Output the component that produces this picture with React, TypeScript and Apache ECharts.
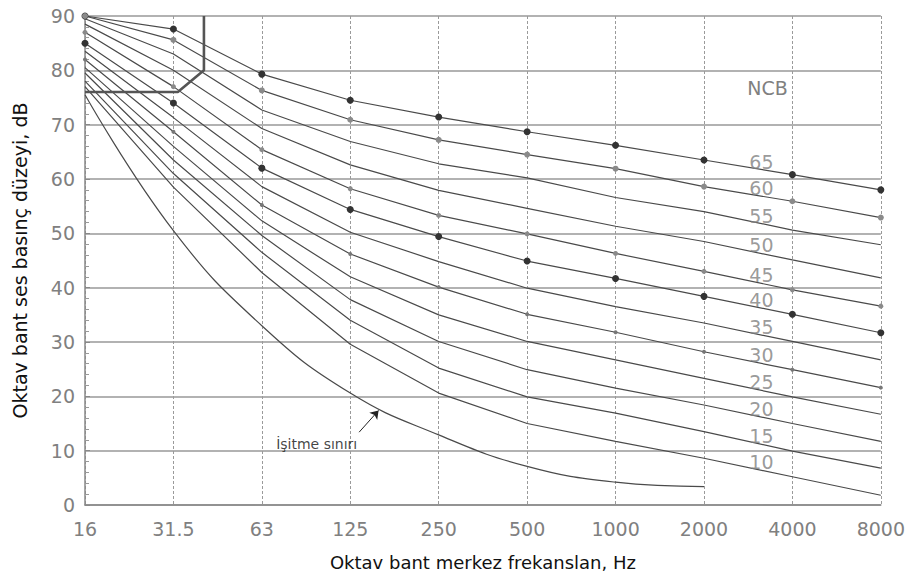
import React, { useEffect, useRef } from "react";
import * as echarts from "echarts";

// Octave-band centre frequencies (x categories)
const categories = ["16", "31.5", "63", "125", "250", "500", "1000", "2000", "4000", "8000"];
const yTicks = [0, 10, 20, 30, 40, 50, 60, 70, 80, 90];

// NCB curves (dB), one value per octave band
const ncb65 = [90, 87.6, 79.3, 74.5, 71.4, 68.7, 66.2, 63.5, 60.8, 58.0];
const ncb60 = [90, 85.6, 76.3, 70.9, 67.2, 64.5, 61.9, 58.6, 55.9, 52.9];
const ncb55 = [89.5, 83.0, 72.7, 66.9, 62.8, 60.2, 56.6, 54.0, 50.6, 47.9];
const ncb50 = [88.5, 80.0, 69.3, 62.6, 57.9, 54.6, 51.3, 48.5, 45.1, 41.8];
const ncb45 = [87.0, 77.0, 65.4, 58.2, 53.3, 49.9, 46.3, 43.0, 39.6, 36.6];
const ncb40 = [85.0, 74.0, 62.0, 54.4, 49.4, 44.9, 41.7, 38.4, 35.1, 31.7];
const ncb35 = [83.5, 71.3, 58.6, 50.2, 44.8, 39.9, 36.5, 33.5, 30.1, 26.7];
const ncb30 = [82.0, 68.7, 55.2, 46.2, 40.1, 35.1, 31.8, 28.2, 24.9, 21.6];
const ncb25 = [80.5, 66.0, 52.3, 42.0, 35.0, 30.1, 26.7, 23.3, 19.9, 16.7];
const ncb20 = [79.5, 63.5, 49.6, 37.8, 30.1, 24.9, 21.5, 18.4, 15.0, 11.7];
const ncb15 = [78.0, 61.0, 46.5, 34.0, 25.2, 19.9, 16.9, 13.5, 9.9, 6.8];
const ncb10 = [77.0, 58.5, 42.8, 29.6, 20.6, 15.0, 11.7, 8.6, 5.2, 1.8];

const ncbLevels = [65, 60, 55, 50, 45, 40, 35, 30, 25, 20, 15, 10];
const ncbCurves = [ncb65, ncb60, ncb55, ncb50, ncb45, ncb40, ncb35, ncb30, ncb25, ncb20, ncb15, ncb10];

// Hearing threshold (16 .. 2000 Hz)
const hearingThreshold = [75.5, 50.5, 33.0, 20.6, 12.9, 7.1, 4.2, 3.4];

// Boundary of the perceptible-vibration region ([band index, dB])
const vibrationBoundary = [
  [0, 76],
  [1.05, 76],
  [1.345, 80],
  [1.345, 90],
];

// Annotation anchors ([band index, dB])
const arrowFrom = [3.1, 13.4];
const arrowTo = [3.32, 17.4];
const thresholdTextAt = [2.62, 11.3];
const labelBand = 7.65; // curve labels placed between 2000 and 4000 Hz

const FONT = "DejaVu Sans";

const dotStyle: Record<number, { size: number; color: string }> = {
  65: { size: 7, color: "#333" },
  60: { size: 6, color: "#8a8a8a" },
  45: { size: 5, color: "#8a8a8a" },
  40: { size: 7, color: "#333" },
  30: { size: 4, color: "#777" },
};

function interp(arr: number[], x: number) {
  const i = Math.floor(x);
  const f = x - i;
  return arr[i] + (arr[i + 1] - arr[i]) * f;
}

export default function App() {
  const ref = useRef<HTMLDivElement>(null);

  useEffect(() => {
    document.body.style.margin = "0";
    const chart = echarts.init(ref.current!, null, { renderer: "svg" });

    const curveSeries = ncbLevels.map((lvl, k) => {
      const d = dotStyle[lvl];
      return {
        type: "line",
        name: "NCB " + lvl,
        data: ncbCurves[k].map((v, i) => [i, v]),
        showSymbol: !!d,
        symbol: "circle",
        symbolSize: d ? d.size : 0,
        itemStyle: { color: d ? d.color : "#4a4a4a" },
        lineStyle: { color: "#4a4a4a", width: 1.2 },
        silent: true,
        z: 3,
      };
    });

    const option: any = {
      animation: false,
      backgroundColor: "#fff",
      grid: { left: 85, right: 20, top: 16, bottom: 76, containLabel: false },
      xAxis: {
        type: "value",
        min: 0,
        max: categories.length - 1,
        interval: 1,
        name: "Oktav bant merkez frekanslan, Hz",
        nameLocation: "middle",
        nameGap: 48,
        nameTextStyle: { fontFamily: FONT, fontSize: 18, color: "#111" },
        axisLine: { show: true, lineStyle: { color: "#888", width: 1.5 } },
        axisTick: { show: false },
        axisLabel: {
          formatter: (v: number) => categories[Math.round(v)] ?? "",
          fontFamily: FONT,
          fontSize: 19,
          color: "#808080",
          margin: 14,
        },
        splitLine: { show: true, lineStyle: { color: "#9a9a9a", width: 1, type: [3, 2] } },
      },
      yAxis: {
        type: "value",
        min: yTicks[0],
        max: yTicks[yTicks.length - 1],
        interval: 10,
        name: "Oktav bant ses basınç düzeyi, dB",
        nameLocation: "middle",
        nameGap: 56,
        nameTextStyle: { fontFamily: FONT, fontSize: 19, color: "#111" },
        axisLine: { show: true, lineStyle: { color: "#888", width: 1.5 } },
        axisTick: { show: true, inside: true, length: 5, lineStyle: { color: "#888" } },
        minorTick: { show: true, splitNumber: 5, length: 4, lineStyle: { color: "#999" } },
        axisLabel: { fontFamily: FONT, fontSize: 19, color: "#808080", margin: 10 },
        splitLine: { show: true, lineStyle: { color: "#999", width: 1.6 } },
      },
      graphic: [
        {
          type: "text",
          x: 85 + (labelBand * (888 - 85)) / (categories.length - 1),
          y: 88,
          style: {
            text: "NCB",
            fill: "#808080",
            font: `19px "${FONT}"`,
            align: "center",
            verticalAlign: "middle",
          },
        },
      ],
      series: [
        ...curveSeries,
        {
          type: "line",
          name: "threshold",
          data: hearingThreshold.map((v, i) => [i, v]),
          smooth: 0.45,
          showSymbol: false,
          lineStyle: { color: "#4a4a4a", width: 1.2 },
          silent: true,
          z: 3,
          markLine: {
            silent: true,
            symbol: ["none", "arrow"],
            symbolSize: 8,
            label: { show: false },
            lineStyle: { color: "#222", width: 1, type: "solid" },
            data: [[{ coord: arrowFrom }, { coord: arrowTo }]],
          },
        },
        {
          type: "line",
          name: "vibration",
          data: vibrationBoundary,
          showSymbol: false,
          lineStyle: { color: "#555", width: 2.6 },
          silent: true,
          z: 4,
        },
        {
          type: "scatter",
          name: "labels",
          silent: true,
          symbolSize: 1,
          itemStyle: { color: "rgba(0,0,0,0)" },
          data: ncbLevels.map((lvl, k) => ({
            value: [labelBand, interp(ncbCurves[k], labelBand)],
            label: { formatter: String(lvl) },
          })),
          label: {
            show: true,
            position: "inside",
            offset: [0, -8],
            fontFamily: FONT,
            fontSize: 19,
            color: "#808080",
          },
          z: 5,
        },
        {
          type: "scatter",
          name: "thresholdText",
          silent: true,
          symbolSize: 1,
          itemStyle: { color: "rgba(0,0,0,0)" },
          data: [{ value: thresholdTextAt, label: { formatter: "İşitme sınırı" } }],
          label: { show: true, position: "inside", fontFamily: FONT, fontSize: 14, color: "#111" },
          z: 5,
        },
      ],
    };

    chart.setOption(option);
    return () => chart.dispose();
  }, []);

  return <div ref={ref} style={{ width: 908, height: 581 }} />;
}
